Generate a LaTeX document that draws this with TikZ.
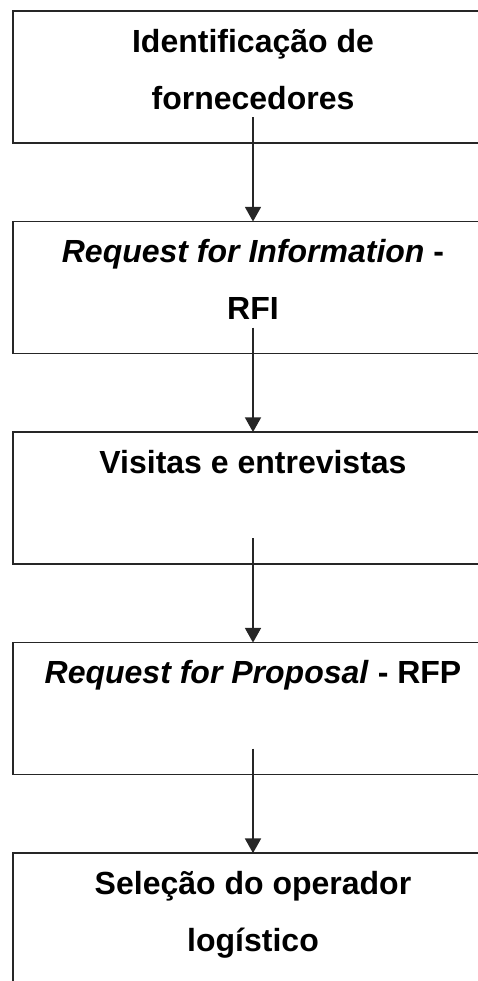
\documentclass[tikz,border=0pt]{standalone}
\usepackage{fontspec}
\setmainfont{Liberation Sans}
\usetikzlibrary{positioning,arrows.meta}

\tikzset{
    etapa/.style={draw=black!85, line width=1.3pt, inner sep=0pt, outer sep=0pt,
        font=\bfseries\fontsize{24}{42.75}\selectfont},
    seta/.style={draw=black!85, line width=1.2pt, -{Triangle[width=12pt,length=11pt]}}
}
\newcommand{\caixa}[1]{\parbox[c][99pt][t]{360pt}{\centering\vspace*{1pt}\strut#1\strut}}

\begin{document}
\begin{tikzpicture}

\useasboundingbox (0,0) rectangle (358.5pt,-735.75pt);

\def\gap{58.9pt}
\node[etapa, anchor=north west] (b1) at (9.75pt,-8.25pt) {\caixa{Identificação de\\fornecedores}};
\node[etapa, below=\gap of b1] (b2) {\caixa{\textit{Request for Information} -\\RFI}};
\node[etapa, below=\gap of b2] (b3) {\caixa{Visitas e entrevistas}};
\node[etapa, below=\gap of b3] (b4) {\caixa{\textit{Request for Proposal} - RFP}};
\node[etapa, below=\gap of b4] (b5) {\caixa{Seleção do operador\\logístico}};

\foreach \a/\b in {b1/b2,b2/b3,b3/b4,b4/b5}
{
    \draw[seta] ([yshift=19.5pt]\a.south) -- (\b.north);
}

\end{tikzpicture}
\end{document}
